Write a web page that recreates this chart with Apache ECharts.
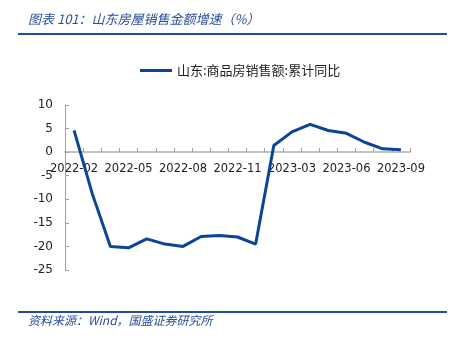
<!DOCTYPE html>
<html>
<head>
<meta charset="utf-8">
<script src="https://cdn.jsdelivr.net/npm/echarts@6/dist/echarts.min.js"></script>
<style>
  html, body { margin: 0; padding: 0; background: #fff; }
  #chart { width: 460px; height: 352px; }
</style>
</head>
<body>
<div id="chart"></div>
<script>
  // 月份（1月不单独公布）
  var months = ['2022-02', '2022-03', '2022-04', '2022-05', '2022-06', '2022-07', '2022-08',
    '2022-09', '2022-10', '2022-11', '2022-12', '2023-02', '2023-03', '2023-04', '2023-05',
    '2023-06', '2023-07', '2023-08', '2023-09'];
  // 山东:商品房销售额:累计同比 (%)
  var salesYoY = [4.6, -8.8, -20.0, -20.3, -18.4, -19.5, -20.0, -17.9, -17.7, -18.0, -19.5,
    1.4, 4.3, 5.9, 4.6, 4.0, 2.1, 0.7, 0.5];
  var seriesName = '山东:商品房销售额:累计同比';
  var titleText = '图表 101：山东房屋销售金额增速（%）';
  var sourceText = '资料来源：Wind，国盛证券研究所';

  var myChart = echarts.init(document.getElementById('chart'));
  myChart.setOption({
    animation: false,
    grid: {
      left: 65,
      right: 50,
      top: 105,
      bottom: 82
    },
    legend: {
      data: [seriesName],
      top: 59,
      left: 135,
      itemWidth: 32,
      itemHeight: 12,
      itemGap: 4,
      icon: 'path://M0,5 L32,5 L32,8 L0,8 Z',
      textStyle: {
        fontFamily: 'Noto Sans CJK SC',
        fontSize: 13,
        color: '#222'
      }
    },
    graphic: [
      {
        type: 'text',
        left: 28,
        top: 13,
        style: {
          text: titleText,
          font: 'italic 13px "Noto Sans CJK SC"',
          fill: '#2a4d9b'
        }
      },
      {
        type: 'rect',
        shape: { x: 18, y: 33, width: 429, height: 2 },
        style: { fill: '#1f4e9f' }
      },
      {
        type: 'rect',
        shape: { x: 18, y: 311, width: 429, height: 2 },
        style: { fill: '#1f4e9f' }
      },
      {
        type: 'text',
        left: 28,
        top: 314,
        style: {
          text: sourceText,
          font: 'italic 12px "Noto Sans CJK SC"',
          fill: '#2a4d9b'
        }
      }
    ],
    xAxis: {
      type: 'category',
      data: months,
      boundaryGap: true,
      // 轴放在 0 值处（-25..10 中 0 的位置）
      offset: -118,
      axisLine: {
        onZero: false,
        lineStyle: { color: '#b0b0b0', width: 1.5 }
      },
      axisTick: {
        show: true,
        inside: true,
        length: 4,
        interval: 0,
        lineStyle: { color: '#a0a0a0' }
      },
      axisLabel: {
        interval: 2,
        margin: 11,
        fontFamily: 'DejaVu Sans',
        fontSize: 11.5,
        color: '#222'
      },
      splitLine: { show: false }
    },
    yAxis: {
      type: 'value',
      min: -25,
      max: 10,
      interval: 5,
      axisLine: {
        show: true,
        lineStyle: { color: '#a0a0a0' }
      },
      axisTick: {
        show: true,
        inside: true,
        length: 4,
        lineStyle: { color: '#a0a0a0' }
      },
      axisLabel: {
        margin: 12,
        fontFamily: 'DejaVu Sans',
        fontSize: 12,
        color: '#222'
      },
      splitLine: { show: false }
    },
    series: [{
      name: seriesName,
      type: 'line',
      data: salesYoY,
      symbol: 'none',
      lineStyle: { color: '#0a4597', width: 3 },
      itemStyle: { color: '#0a4597' }
    }]
  });
</script>
</body>
</html>
